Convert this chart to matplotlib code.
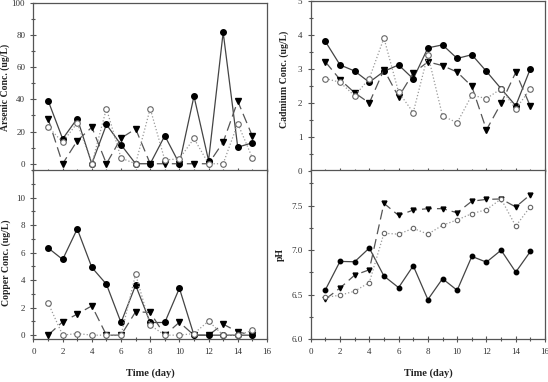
import matplotlib
matplotlib.use('Agg')
import matplotlib.pyplot as plt
from matplotlib.ticker import MultipleLocator

plt.rcParams['font.family'] = ['Liberation Serif', 'DejaVu Serif']

days = list(range(1, 16))

# arsenic (ug/L)
as_filled = [39.3, 15.5, 28.1, 0, 24.4, 11.8, 0, 0, 17.4, 0, 42, 2, 81.7, 10.3, 13]
as_open = [23, 13.4, 25.4, 0, 34.3, 3.5, 0, 34.3, 2.3, 3.1, 15.7, 0, 0, 25, 3.7]
as_tri = [28, 0, 14.3, 22.7, 0, 15.9, 21.7, 0, 0, 0, 0, 0, 13.4, 38.9, 17.2]

# cadmium (ug/L)
cd_filled = [3.81, 3.12, 2.94, 2.61, 2.93, 3.12, 2.71, 3.62, 3.71, 3.31, 3.42, 2.93, 2.42, 1.92, 3.01]
cd_open = [2.72, 2.61, 2.21, 2.72, 3.91, 2.32, 1.72, 3.42, 1.62, 1.42, 2.23, 2.13, 2.42, 1.82, 2.42]
cd_tri = [3.21, 2.69, 2.30, 2.00, 2.98, 2.18, 2.88, 3.21, 3.10, 2.91, 2.49, 1.21, 1.99, 2.90, 1.90]

# copper (ug/L)
cu_filled = [6.34, 5.50, 7.72, 4.92, 3.70, 0.92, 3.63, 0.92, 0.92, 3.41, 0, 0, 0, 0, 0]
cu_open = [2.35, 0, 0.12, 0, 0, 0, 4.43, 0.73, 0, 0, 0.12, 1.02, 0, 0, 0.34]
cu_tri = [0, 0.97, 1.53, 2.13, 0, 0, 1.70, 1.65, 0, 0.94, 0, 0, 0.80, 0.24, 0]

# pH
ph_filled = [6.555, 6.874, 6.87, 7.024, 6.71, 6.58, 6.825, 6.446, 6.68, 6.55, 6.93, 6.866, 7.0, 6.754, 6.986]
ph_open = [6.47, 6.495, 6.54, 6.637, 7.19, 7.18, 7.245, 7.18, 7.28, 7.34, 7.41, 7.455, 7.575, 7.27, 7.49]
ph_tri = [6.45, 6.575, 6.72, 6.78, 7.526, 7.39, 7.45, 7.466, 7.466, 7.42, 7.55, 7.57, 7.575, 7.485, 7.624]

fig = plt.figure(figsize=(5.48, 3.82), dpi=100)
ax_as = fig.add_axes([0.0611, 0.5524, 0.426, 0.44])
ax_cu = fig.add_axes([0.0611, 0.1118, 0.426, 0.4432])
ax_cd = fig.add_axes([0.567, 0.5524, 0.4276, 0.445])
ax_ph = fig.add_axes([0.567, 0.1118, 0.4276, 0.4432])

spine_col = '#555555'


def draw(ax, filled, opened, tri, ms=4):
    ax.plot(days, filled, '-', color='#444444', lw=0.9, marker='o', ms=ms,
            mfc='black', mec='black', zorder=3)
    ax.plot(days, opened, ':', color='#999999', lw=0.9, marker='o', ms=ms,
            mfc='white', mec='#666666', mew=0.8, zorder=4)
    ax.plot(days, tri, color='#555555', lw=0.9, dashes=(8, 4), marker='v',
            ms=ms + 0.3, mfc='black', mec='black', zorder=3)
    ax.set_xlim(0, 16)
    ax.xaxis.set_major_locator(MultipleLocator(2))
    ax.xaxis.set_minor_locator(MultipleLocator(1))
    for s in ax.spines.values():
        s.set_color(spine_col)
        s.set_linewidth(0.9)
    ax.tick_params(which='both', direction='inout', colors=spine_col,
                   labelcolor='#333333', labelsize=6.5, width=0.8)
    ax.tick_params(which='major', length=5)
    ax.tick_params(which='minor', length=2.5)


lab = dict(fontsize=7, fontweight='bold', color='#222222')
xlab = dict(fontsize=7.5, fontweight='bold', color='#222222')

draw(ax_as, as_filled, as_open, as_tri)
ax_as.set_ylim(-4.5, 100)
ax_as.yaxis.set_major_locator(MultipleLocator(20))
ax_as.yaxis.set_minor_locator(MultipleLocator(10))
ax_as.tick_params(axis='x', labelbottom=False)
ax_as.set_ylabel('Arsenic Conc. (ug/L)', **lab)
ax_as.yaxis.set_label_coords(-0.1, 0.5)

draw(ax_cd, cd_filled, cd_open, cd_tri)
ax_cd.set_ylim(0, 5)
ax_cd.yaxis.set_major_locator(MultipleLocator(1))
ax_cd.yaxis.set_minor_locator(MultipleLocator(0.5))
ax_cd.tick_params(axis='x', labelbottom=False)
ax_cd.set_ylabel('Cadmium Conc. (ug/L)', **lab)
ax_cd.yaxis.set_label_coords(-0.093, 0.54)

draw(ax_cu, cu_filled, cu_open, cu_tri)
ax_cu.set_ylim(-0.3, 12)
ax_cu.set_yticks([0, 2, 4, 6, 8, 10])
ax_cu.yaxis.set_minor_locator(MultipleLocator(1))
ax_cu.set_ylabel('Copper Conc. (ug/L)', **lab)
ax_cu.yaxis.set_label_coords(-0.098, 0.45)
ax_cu.set_xlabel('Time (day)', labelpad=9, **xlab)

draw(ax_ph, ph_filled, ph_open, ph_tri, ms=3.2)
ax_ph.set_ylim(6.0, 7.9)
ax_ph.set_yticks([6.0, 6.5, 7.0, 7.5])
ax_ph.yaxis.set_minor_locator(MultipleLocator(0.25))
ax_ph.set_ylabel('pH', **lab)
ax_ph.yaxis.set_label_coords(-0.11, 0.5)
ax_ph.set_xlabel('Time (day)', labelpad=9, **xlab)

fig.savefig('out.png', dpi=100)
